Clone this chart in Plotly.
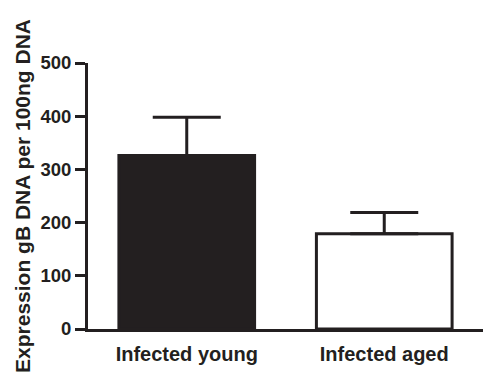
import plotly.graph_objects as go

categories = ["Infected young", "Infected aged"]
values = [326, 179]
err_plus = [72, 40]
err_minus = [0, 0]
fills = ["#231f20", "#ffffff"]
y_ticks = [0, 100, 200, 300, 400, 500]
y_title = "Expression gB DNA per 100ng DNA"

ink = "#231f20"
font = dict(family="Liberation Sans, Arial, sans-serif", color=ink, weight="bold")

fig = go.Figure()
fig.add_trace(go.Bar(
    x=categories, y=values, width=0.687,
    marker=dict(color=fills, line=dict(color=ink, width=3)),
    error_y=dict(type="data", symmetric=False, array=err_plus, arrayminus=err_minus,
                 color=ink, thickness=3, width=34),
))
fig.update_layout(
    width=483, height=379,
    margin=dict(l=88, r=0, t=63, b=50, autoexpand=False),
    paper_bgcolor="white", plot_bgcolor="white",
    showlegend=False,
    font=font,
    xaxis=dict(range=[-0.5, 1.5], showline=True, linecolor=ink, linewidth=3,
               ticks="", showgrid=False, zeroline=False,
               tickfont=dict(size=20, **font), ticklabelstandoff=5),
    yaxis=dict(range=[0, 500], tickvals=y_ticks, showline=True, linecolor=ink, linewidth=3,
               ticks="outside", ticklen=10, tickwidth=3, tickcolor=ink,
               showgrid=False, zeroline=False,
               tickfont=dict(size=18.5, **font),
               title=dict(text=y_title, font=dict(size=21, **font), standoff=5)),
)
fig.write_html("out.html")
